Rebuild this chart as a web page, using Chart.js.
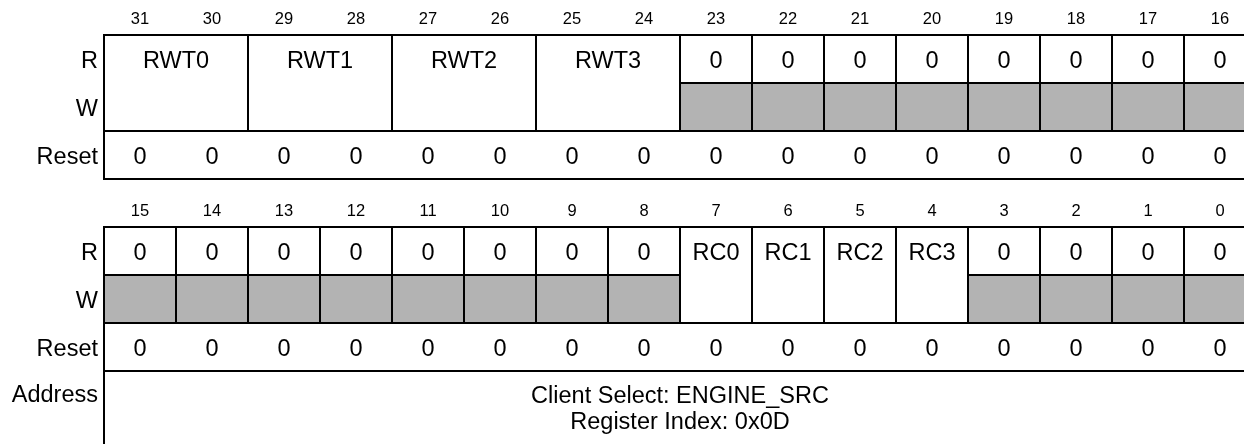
<!DOCTYPE html>
<html>
<head>
<meta charset="utf-8">
<script src="https://cdn.jsdelivr.net/npm/chart.js@4.4.1/dist/chart.umd.min.js"></script>
<style>
  html, body { margin: 0; padding: 0; background: #ffffff; overflow: hidden; }
  #wrap { position: relative; width: 1260px; height: 444px; }
</style>
</head>
<body>
<div id="wrap"><canvas id="c"></canvas></div>
<script>
// ---------------- data ----------------
const topBitLabels    = ['31','30','29','28','27','26','25','24','23','22','21','20','19','18','17','16'];
const bottomBitLabels = ['15','14','13','12','11','10','9','8','7','6','5','4','3','2','1','0'];
const rowLabels = ['R', 'W', 'Reset'];
const fieldNames = ['RWT0', 'RWT1', 'RWT2', 'RWT3', 'RC0', 'RC1', 'RC2', 'RC3'];
const fieldMsb   = [31, 29, 27, 25, 7, 6, 5, 4];
const fieldLsb   = [30, 28, 26, 24, 7, 6, 5, 4];
const reservedBits  = [23, 22, 21, 20, 19, 18, 17, 16, 15, 14, 13, 12, 11, 10, 9, 8, 3, 2, 1, 0];
const reservedValue = ['0','0','0','0','0','0','0','0','0','0','0','0','0','0','0','0','0','0','0','0'];
const resetValues = ['0','0','0','0','0','0','0','0','0','0','0','0','0','0','0','0',
                     '0','0','0','0','0','0','0','0','0','0','0','0','0','0','0','0']; // bit 31 .. bit 0
const addressLabel = 'Address';
const addressLines = ['Client Select: ENGINE_SRC', 'Register Index: 0x0D'];

// ---------------- helpers ----------------
const sectionOf = b => (b >= 16 ? 0 : 1);
const colOf = b => (b >= 16 ? 31 - b : 15 - b);
const rowBase = s => s * 4;

// gray (reserved, write-not-available) cells as floating bars on the column category
const grayCells = reservedBits.map(b => ({
  x: topBitLabels[colOf(b)],
  y: [rowBase(sectionOf(b)) + 1, rowBase(sectionOf(b)) + 2]
}));

const FONT = '"Liberation Sans", Arial, Helvetica, sans-serif';

const registerPlugin = {
  id: 'register',
  afterDatasetsDraw(chart) {
    const ctx = chart.ctx;
    const xs = chart.scales.x, ys = chart.scales.y;
    const colW = xs.getPixelForValue(1) - xs.getPixelForValue(0);
    const xl = c => xs.getPixelForValue(c) - colW / 2;   // left edge of column c
    const xc = c => xs.getPixelForValue(c);
    const Y = v => ys.getPixelForValue(v);
    const right = xl(16);
    const left = xl(0);

    ctx.save();
    ctx.strokeStyle = '#000';
    ctx.lineWidth = 2;
    ctx.lineCap = 'square';
    const line = (x1, y1, x2, y2) => { ctx.beginPath(); ctx.moveTo(x1, y1); ctx.lineTo(x2, y2); ctx.stroke(); };

    for (let s = 0; s < 2; s++) {
      const b0 = rowBase(s);
      line(left, Y(b0), right, Y(b0));
      line(left, Y(b0 + 2), right, Y(b0 + 2));
      line(left, Y(b0 + 3), right, Y(b0 + 3));
      line(left, Y(b0), left, Y(b0 + 3));
      line(right, Y(b0), right, Y(b0 + 3));
    }
    // address box
    line(left, Y(7), left, Y(ys.max));
    line(right, Y(7), right, Y(ys.max));

    // reserved cells: R/W separator and cell edges
    reservedBits.forEach(b => {
      const s = sectionOf(b), c = colOf(b), b0 = rowBase(s);
      line(xl(c), Y(b0 + 1), xl(c + 1), Y(b0 + 1));
      line(xl(c), Y(b0), xl(c), Y(b0 + 2));
      line(xl(c + 1), Y(b0), xl(c + 1), Y(b0 + 2));
    });
    // named fields edges
    fieldNames.forEach((n, i) => {
      const s = sectionOf(fieldMsb[i]), b0 = rowBase(s);
      const c1 = colOf(fieldMsb[i]), c2 = colOf(fieldLsb[i]) + 1;
      line(xl(c1), Y(b0), xl(c1), Y(b0 + 2));
      line(xl(c2), Y(b0), xl(c2), Y(b0 + 2));
    });

    // ----- texts -----
    ctx.fillStyle = '#000';
    ctx.textBaseline = 'middle';
    // bit numbers
    ctx.font = '16.5px ' + FONT;
    ctx.textAlign = 'center';
    topBitLabels.forEach((t, c) => ctx.fillText(t, xc(c), Y(-0.32)));
    bottomBitLabels.forEach((t, c) => ctx.fillText(t, xc(c), Y(3.68)));

    ctx.font = '23.5px ' + FONT;
    // row labels
    ctx.textAlign = 'right';
    for (let s = 0; s < 2; s++) {
      rowLabels.forEach((t, r) => ctx.fillText(t, left - 6, Y(rowBase(s) + r + 0.55)));
    }
    ctx.fillText(addressLabel, left - 6, Y(7.51));

    ctx.textAlign = 'center';
    // field names
    fieldNames.forEach((n, i) => {
      const s = sectionOf(fieldMsb[i]);
      const c1 = colOf(fieldMsb[i]), c2 = colOf(fieldLsb[i]);
      ctx.fillText(n, (xc(c1) + xc(c2)) / 2, Y(rowBase(s) + 0.55));
    });
    // reserved read values
    reservedBits.forEach((b, i) => ctx.fillText(reservedValue[i], xc(colOf(b)), Y(rowBase(sectionOf(b)) + 0.55)));
    // reset values
    resetValues.forEach((v, i) => {
      const b = 31 - i;
      ctx.fillText(v, xc(colOf(b)), Y(rowBase(sectionOf(b)) + 2.55));
    });
    // address text
    addressLines.forEach((t, i) => ctx.fillText(t, (left + right) / 2, Y(7.53 + i * 0.54)));
    ctx.restore();
  }
};

new Chart(document.getElementById('c'), {
  type: 'bar',
  data: {
    labels: topBitLabels,
    datasets: [{
      data: grayCells,
      backgroundColor: '#b3b3b3',
      borderWidth: 0,
      barPercentage: 1.0,
      categoryPercentage: 1.0
    }]
  },
  options: {
    responsive: true,
    maintainAspectRatio: false,
    animation: false,
    events: [],
    layout: { padding: { left: 104, right: 4, top: 35, bottom: 0 } },
    plugins: { legend: { display: false }, tooltip: { enabled: false } },
    scales: {
      x: { type: 'category', display: false, offset: true, grid: { display: false } },
      y: { type: 'linear', display: false, reverse: true, min: 0, max: 8.52, grid: { display: false } }
    }
  },
  plugins: [registerPlugin]
});
</script>
</body>
</html>
